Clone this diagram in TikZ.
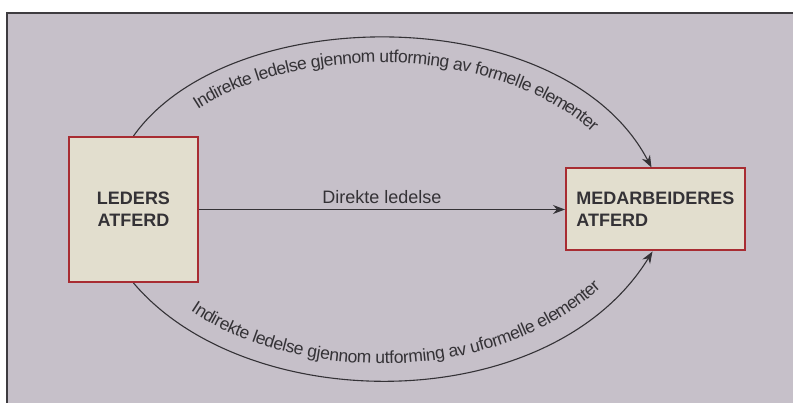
\documentclass[tikz,border=0pt]{standalone}
\usepackage{fontspec}
\setmainfont{Liberation Sans}
\usetikzlibrary{positioning, arrows.meta, decorations.text}
\definecolor{paper}{RGB}{198,192,201}
\definecolor{boxfill}{RGB}{226,222,206}
\definecolor{boxline}{RGB}{168,44,50}
\definecolor{ink}{RGB}{52,50,54}
\definecolor{frame}{RGB}{62,60,64}
\tikzstyle{actor} = [rectangle, draw=boxline, line width=2pt, fill=boxfill, text=ink, font=\fontsize{18}{22}\selectfont\bfseries, align=center]
\tikzstyle{arrow} = [line width=1.1pt, draw=ink, -{Stealth[length=12pt,width=9pt]}]
\newcommand{\curvefont}{\fontsize{17.5}{20}\selectfont}

\begin{document}
\begin{tikzpicture}[x=1pt, y=1pt]
    \useasboundingbox (0,0) rectangle (793,403);
    \fill[white] (0,0) rectangle (793,403);
    \fill[paper] (7,0) rectangle (793,390);
    \draw[frame, line width=2.5pt] (793,390) -- (7,390) -- (7,0);

    \node (leders) [actor, minimum width=129pt, minimum height=145pt] at (133.5,193.5) {LEDERS\\ATFERD};
    \node (medarb) [actor, minimum width=179pt, minimum height=82pt, align=left, right=366pt of leders] {MEDARBEIDERES\\ATFERD};

    \draw [arrow] (leders) -- node[above=5pt, inner sep=0pt, text=ink, font=\fontsize{18}{22}\selectfont] {Direkte ledelse} (medarb);
    \draw [arrow, postaction={decorate, decoration={text along path, raise=-25pt, text align=center,
        text={|\curvefont\color{ink}|Indirekte ledelse gjennom utforming av formelle elementer}}}]
        (leders.north) .. controls (230,403) and (564,403) .. ([xshift=-4pt]medarb.north);
    \draw [arrow, postaction={decorate, decoration={text along path, raise=17pt, text align=center,
        text={|\curvefont\color{ink}|Indirekte ledelse gjennom utforming av uformelle elementer}}}]
        (leders.south) .. controls (248,-15) and (550,-15) .. ([xshift=-3pt]medarb.south);
\end{tikzpicture}
\end{document}
